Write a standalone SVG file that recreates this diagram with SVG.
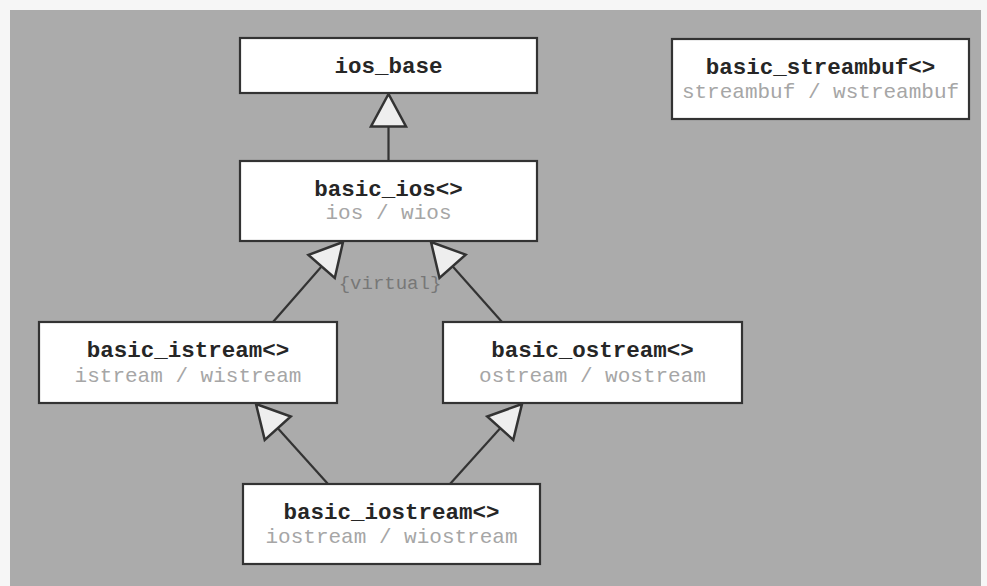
<svg xmlns="http://www.w3.org/2000/svg" width="987" height="586" viewBox="0 0 987 586">
<style>
.box{fill:#ffffff;stroke:#333333;stroke-width:2.2}
.t{font-family:"Liberation Mono","Courier New",monospace;font-weight:bold;font-size:22.5px;fill:#262626;text-anchor:middle}
.s{font-family:"Liberation Mono","Courier New",monospace;font-size:21px;fill:#a6a6a6;text-anchor:middle}
.v{font-family:"Liberation Mono","Courier New",monospace;font-size:19px;fill:#777777;text-anchor:middle}
.c{stroke:#333333;stroke-width:2.2;fill:none;marker-end:url(#tri)}
</style>
<defs>
<marker id="tri" markerUnits="userSpaceOnUse" markerWidth="40" markerHeight="40" viewBox="-30 -16 32 32" refX="0" refY="0" orient="auto">
<path d="M0,0 L-26,-14 L-26,14 Z" fill="#eeeeee" stroke="#333333" stroke-width="2" stroke-linejoin="miter"/>
</marker>
</defs>
<rect x="0" y="0" width="987" height="586" fill="#f6f6f6"/>
<rect x="10" y="10" width="971" height="576" fill="#ababab"/>
<g id="connectors">
<line class="c" x1="388.5" y1="161" x2="388.5" y2="94"/>
<line class="c" x1="273" y1="322" x2="343" y2="242"/>
<line class="c" x1="502" y1="322" x2="431" y2="242"/>
<line class="c" x1="328" y1="484" x2="256" y2="404"/>
<line class="c" x1="450" y1="484" x2="522" y2="404"/>
</g>
<g id="ios_base">
<rect class="box" x="240" y="38" width="297" height="55"/>
<text class="t" x="388.5" y="73">ios_base</text>
</g>
<g id="basic_ios">
<rect class="box" x="240" y="161" width="297" height="80"/>
<text class="t" x="388.5" y="196">basic_ios&lt;&gt;</text>
<text class="s" x="388.5" y="219">ios / wios</text>
</g>
<g id="basic_streambuf">
<rect class="box" x="672" y="39" width="297" height="80"/>
<text class="t" x="820.5" y="74">basic_streambuf&lt;&gt;</text>
<text class="s" x="820.5" y="98">streambuf / wstreambuf</text>
</g>
<g id="basic_istream">
<rect class="box" x="39" y="322" width="298" height="81"/>
<text class="t" x="188" y="357">basic_istream&lt;&gt;</text>
<text class="s" x="188" y="382">istream / wistream</text>
</g>
<g id="basic_ostream">
<rect class="box" x="443" y="322" width="299" height="81"/>
<text class="t" x="592.5" y="357">basic_ostream&lt;&gt;</text>
<text class="s" x="592.5" y="382">ostream / wostream</text>
</g>
<g id="basic_iostream">
<rect class="box" x="243" y="484" width="297" height="80"/>
<text class="t" x="391.5" y="519">basic_iostream&lt;&gt;</text>
<text class="s" x="391.5" y="543">iostream / wiostream</text>
</g>
<text class="v" x="390" y="289">{virtual}</text>
</svg>
